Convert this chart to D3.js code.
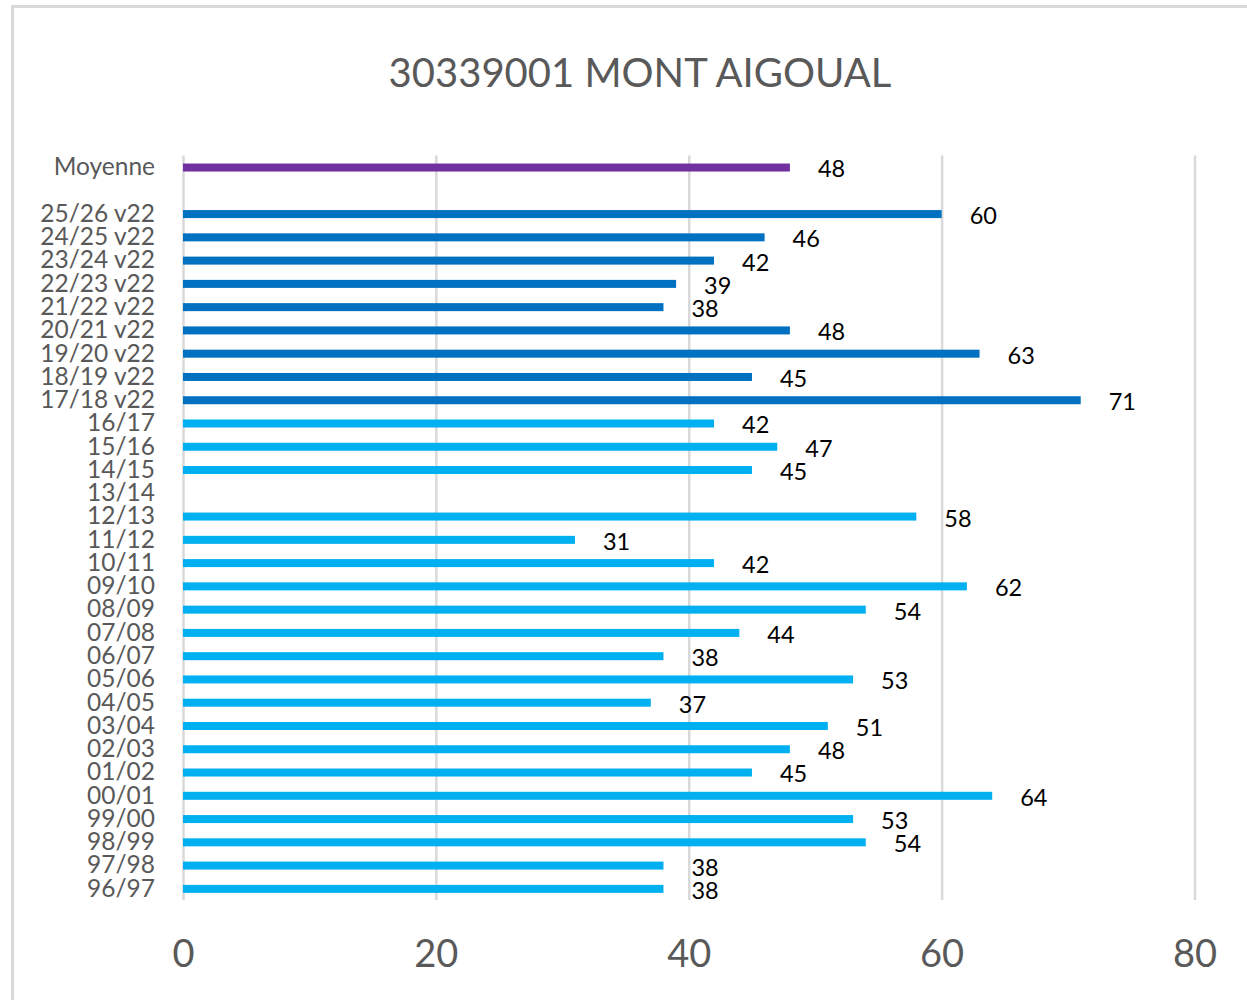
<!DOCTYPE html>
<html>
<head>
<meta charset="utf-8">
<script src="https://cdn.jsdelivr.net/npm/d3@7"></script>
<style>
  html, body { margin: 0; padding: 0; background: #fff; }
  svg { display: block; }
  text { font-family: Lato, "Open Sans", sans-serif; }
</style>
</head>
<body>
<svg id="chart" width="1247" height="1000"></svg>
<script>
const title = "30339001 MONT AIGOUAL";
const categories = ["Moyenne", "", "25/26 v22", "24/25 v22", "23/24 v22", "22/23 v22", "21/22 v22",
  "20/21 v22", "19/20 v22", "18/19 v22", "17/18 v22", "16/17", "15/16", "14/15", "13/14",
  "12/13", "11/12", "10/11", "09/10", "08/09", "07/08", "06/07", "05/06", "04/05", "03/04",
  "02/03", "01/02", "00/01", "99/00", "98/99", "97/98", "96/97"];
const values = [48, null, 60, 46, 42, 39, 38, 48, 63, 45, 71, 42, 47, 45, null,
  58, 31, 42, 62, 54, 44, 38, 53, 37, 51, 48, 45, 64, 53, 54, 38, 38];
const groups = ["moy", "none", "v22", "v22", "v22", "v22", "v22", "v22", "v22", "v22", "v22",
  "old", "old", "old", "old", "old", "old", "old", "old", "old", "old", "old", "old", "old",
  "old", "old", "old", "old", "old", "old", "old", "old"];
const xTicks = [0, 20, 40, 60, 80];

const colors = { moy: "#7030A0", v22: "#0070C0", old: "#00B0F0", none: "none" };

const svg = d3.select("#chart");

// outer chart border
svg.append("rect")
  .attr("x", 12.5).attr("y", 6.5)
  .attr("width", 1247).attr("height", 1000)
  .attr("fill", "none").attr("stroke", "#d9d9d9").attr("stroke-width", 3);

svg.append("text")
  .attr("x", 640).attr("y", 87)
  .attr("text-anchor", "middle")
  .attr("font-size", 40)
  .attr("fill", "#595959")
  .text(title);

const x = d3.scaleLinear().domain([0, 80]).range([183, 1194.5]);
const y = d3.scaleBand().domain(d3.range(categories.length)).range([155.4, 900]).padding(0);

// gridlines
const grid = svg.append("g")
  .attr("transform", `translate(0,${900})`)
  .call(d3.axisBottom(x).tickValues(xTicks).tickSize(-(900 - 155.4)).tickFormat(""));
grid.select(".domain").remove();
grid.selectAll("line").attr("stroke", "#d9d9d9").attr("stroke-width", 2.5);

// x tick labels
const xa = svg.append("g")
  .attr("transform", `translate(0,${940})`)
  .call(d3.axisBottom(x).tickValues(xTicks).tickSize(0).tickPadding(0));
xa.select(".domain").remove();
xa.selectAll("text")
  .attr("font-size", 38)
  .attr("fill", "#595959")
  .attr("dy", "0.72em")
  .attr("font-family", "Lato, sans-serif");

// y labels
const ya = svg.append("g")
  .attr("transform", `translate(${183},0)`)
  .call(d3.axisLeft(y).tickSize(0).tickPadding(28).tickFormat(i => categories[i]));
ya.select(".domain").remove();
ya.selectAll("text")
  .attr("font-size", 24.5)
  .attr("fill", "#595959")
  .attr("dy", "0.34em")
  .attr("font-family", "Lato, sans-serif");

const barH = 8;
const idx = d3.range(categories.length).filter(i => values[i] != null);

svg.append("g").selectAll("rect")
  .data(idx)
  .join("rect")
  .attr("x", x(0))
  .attr("y", i => y(i) + y.bandwidth() / 2 - barH / 2 + 0.5)
  .attr("width", i => x(values[i]) - x(0))
  .attr("height", barH)
  .attr("fill", i => colors[groups[i]]);

svg.append("g").selectAll("text")
  .data(idx)
  .join("text")
  .attr("x", i => x(values[i]) + 28)
  .attr("y", i => y(i) + y.bandwidth() / 2 + 2)
  .attr("dy", "0.36em")
  .attr("font-size", 23.5)
  .attr("fill", "#000")
  .text(i => values[i]);
</script>
</body>
</html>
